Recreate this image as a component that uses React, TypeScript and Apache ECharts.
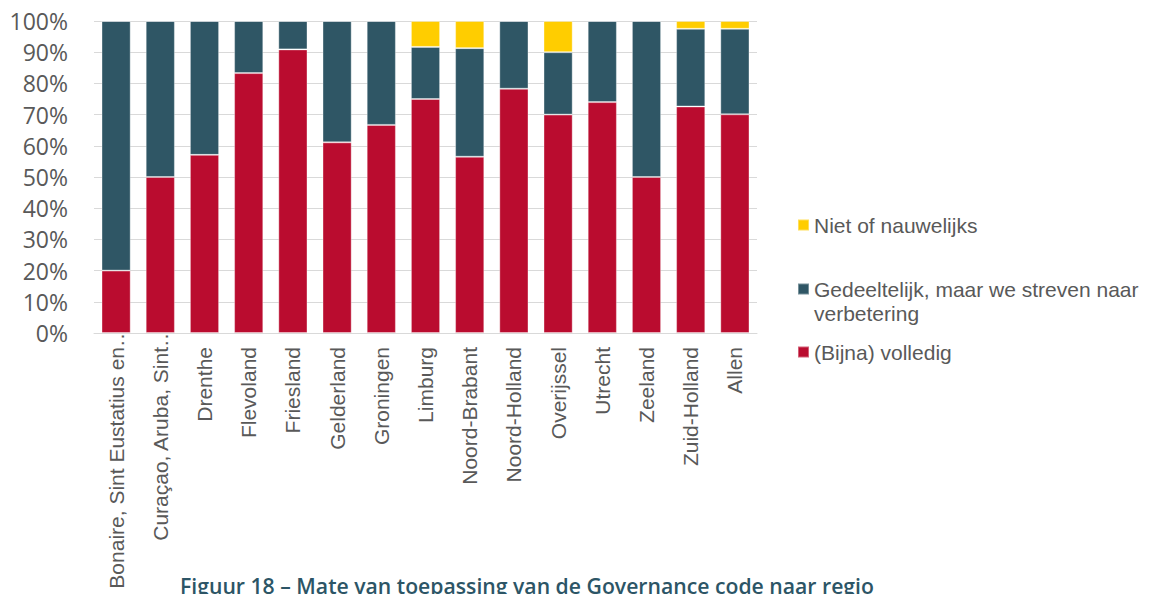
import React, { useEffect, useRef } from "react";
import * as echarts from "echarts";

const categories = [
  "Bonaire, Sint Eustatius en…",
  "Curaçao, Aruba, Sint…",
  "Drenthe",
  "Flevoland",
  "Friesland",
  "Gelderland",
  "Groningen",
  "Limburg",
  "Noord-Brabant",
  "Noord-Holland",
  "Overijssel",
  "Utrecht",
  "Zeeland",
  "Zuid-Holland",
  "Allen",
];

const volledig = [20, 50, 57.1, 83.3, 90.9, 61.1, 66.7, 75, 56.5, 78.3, 70, 74, 50, 72.6, 70.1];
const gedeeltelijk = [80, 50, 42.9, 16.7, 9.1, 38.9, 33.3, 16.7, 34.8, 21.7, 20, 26, 50, 24.9, 27.4];
const niet = [0, 0, 0, 0, 0, 0, 0, 8.3, 8.7, 0, 10, 0, 0, 2.5, 2.5];

const seriesNames = {
  niet: "Niet of nauwelijks",
  ged: "Gedeeltelijk, maar we streven naar verbetering",
  vol: "(Bijna) volledig",
};

const titleText = "Figuur 18 – Mate van toepassing van de Governance code naar regio";

const RED = "#BA0C2F";
const TEAL = "#2F5665";
const YELLOW = "#FFCD00";
const GRAY = "#595959";

export default function App() {
  const ref = useRef<HTMLDivElement>(null);

  useEffect(() => {
    if (!ref.current) return;
    const chart = echarts.init(ref.current, null, { renderer: "svg" });
    const legendText = {
      color: GRAY,
      fontFamily: "Liberation Sans",
      fontSize: 21,
      lineHeight: 24,
    };
    const legendBase = {
      orient: "vertical",
      left: 797,
      padding: 0,
      itemWidth: 11,
      itemHeight: 11,
      icon: "rect",
      selectedMode: false,
    };
    const barBase = {
      type: "bar",
      stack: "total",
      barWidth: "66%",
    };
    const xData = categories.map((c) =>
      c.endsWith("…") ? { value: c, textStyle: { padding: [0, -21, 0, 0] } } : c
    );
    chart.setOption({
      animation: false,
      backgroundColor: "#ffffff",
      grid: {
        left: 94,
        right: 395,
        top: 21,
        bottom: 261,
        containLabel: false,
        outerBoundsMode: "none",
      },
      legend: [
        { ...legendBase, top: 213, data: [seriesNames.niet], textStyle: legendText },
        {
          ...legendBase,
          top: 253,
          data: [seriesNames.ged],
          formatter: () => " \nGedeeltelijk, maar we streven naar\nverbetering",
          textStyle: legendText,
        },
        { ...legendBase, top: 340, data: [seriesNames.vol], textStyle: legendText },
      ],
      xAxis: {
        type: "category",
        data: xData,
        axisLine: { show: true, lineStyle: { color: "#d9d9d9", width: 1 } },
        axisTick: { show: false },
        axisLabel: {
          rotate: 90,
          interval: 0,
          margin: 14,
          color: GRAY,
          fontFamily: "Liberation Sans",
          fontSize: 21,
        },
      },
      yAxis: {
        type: "value",
        min: 0,
        max: 100,
        interval: 10,
        axisLine: { show: false },
        axisTick: { show: false },
        splitLine: { lineStyle: { color: "#d9d9d9", width: 1 } },
        axisLabel: {
          formatter: "{value}%",
          margin: 26,
          color: GRAY,
          fontFamily: "Open Sans",
          fontSize: 23,
        },
      },
      series: [
        {
          ...barBase,
          name: seriesNames.vol,
          data: volledig,
          itemStyle: { color: RED, borderColor: "rgba(255,255,255,0.35)", borderWidth: 1 },
        },
        {
          ...barBase,
          name: seriesNames.ged,
          data: gedeeltelijk,
          itemStyle: { color: TEAL, borderColor: "rgba(255,255,255,0.35)", borderWidth: 1 },
        },
        {
          ...barBase,
          name: seriesNames.niet,
          data: niet,
          itemStyle: { color: YELLOW, borderColor: "rgba(255,255,255,0.35)", borderWidth: 1 },
        },
      ],
      graphic: [
        {
          type: "text",
          left: 180,
          top: 575,
          style: {
            text: titleText,
            fill: "#2C5566",
            fontFamily: "Open Sans",
            fontWeight: 600,
            fontSize: 21.2,
          },
        },
      ],
    });
    return () => chart.dispose();
  }, []);

  return (
    <div
      ref={ref}
      style={{ position: "fixed", left: 0, top: 0, width: 1152, height: 594, overflow: "hidden" }}
    />
  );
}
